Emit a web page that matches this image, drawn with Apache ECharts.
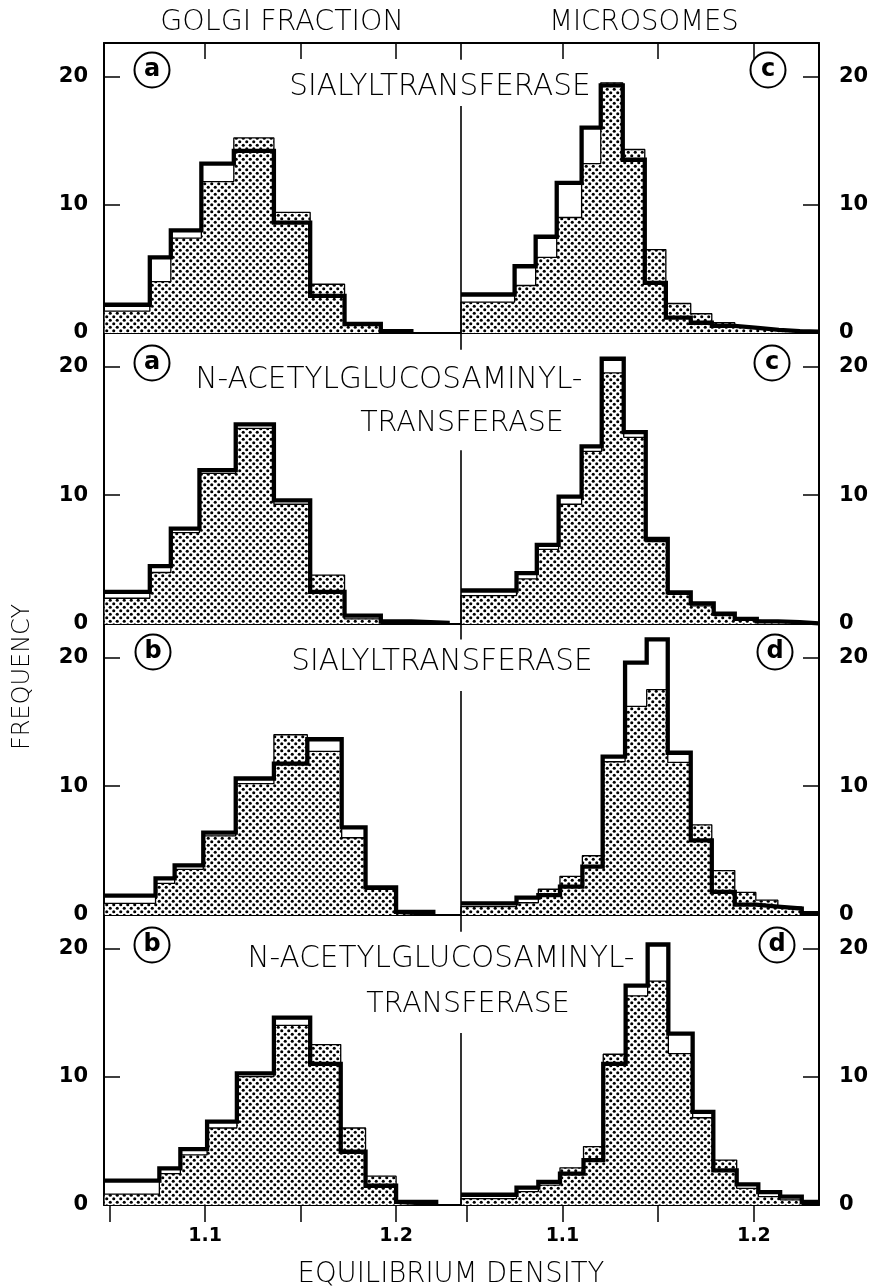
<!DOCTYPE html>
<html><head><meta charset="utf-8">
<script src="https://cdn.jsdelivr.net/npm/echarts@6/dist/echarts.min.js"></script>
<style>html,body{margin:0;padding:0;background:#fff}#c{width:875px;height:1286px}</style>
</head><body><div id="c"></div><script>
// ---------------- DATA (equilibrium density bin edges, frequencies) ----------------
const xTickValues = [1.05, 1.10, 1.15, 1.20];
const xLabelValues = [1.1, 1.2];
const yTickValues = [0, 10, 20];

// (a) Golgi, sialyltransferase
const aSiaEdges   = [1.047, 1.071, 1.082, 1.098, 1.115, 1.136, 1.155, 1.173, 1.192, 1.208];
const aSiaDotted  = [1.7, 4.0, 7.4, 11.8, 15.2, 9.4, 3.8, 0.6, 0.05];
const aSiaOutline = [2.2, 5.9, 8.0, 13.2, 14.2, 8.6, 2.9, 0.7, 0.15];
// (c) Microsomes, sialyltransferase
const cSiaEdges   = [1.047, 1.075, 1.086, 1.097, 1.110, 1.120, 1.1315, 1.143, 1.154, 1.167, 1.178, 1.190, 1.202, 1.213, 1.224, 1.234];
const cSiaDotted  = [2.4, 3.7, 5.9, 9.0, 13.2, 19.5, 14.3, 6.5, 2.3, 1.5, 0.8, 0.5, 0.3, 0.2, 0.1];
const cSiaOutline = [3.0, 5.2, 7.5, 11.7, 16.0, 19.3, 13.5, 3.9, 1.2, 0.8, 0.55, 0.4, 0.25, 0.15, 0.1];
// (a) Golgi, N-acetylglucosaminyltransferase
const aGntEdges   = [1.047, 1.071, 1.082, 1.097, 1.116, 1.136, 1.155, 1.173, 1.192, 1.208, 1.227];
const aGntDotted  = [2.0, 4.0, 7.1, 11.7, 15.2, 9.3, 3.8, 0.4, 0.05, 0];
const aGntOutline = [2.5, 4.5, 7.4, 11.95, 15.5, 9.6, 2.5, 0.65, 0.2, 0.1];
// (c) Microsomes, N-acetylglucosaminyltransferase
const cGntEdges   = [1.047, 1.076, 1.0866, 1.098, 1.110, 1.1205, 1.132, 1.1435, 1.155, 1.167, 1.179, 1.190, 1.2015, 1.2126, 1.224, 1.234];
const cGntDotted  = [2.2, 3.5, 5.8, 9.3, 13.4, 19.5, 14.5, 6.4, 2.3, 1.4, 0.65, 0.3, 0.15, 0.1, 0];
const cGntOutline = [2.6, 3.95, 6.15, 9.9, 13.8, 20.6, 14.9, 6.6, 2.45, 1.6, 0.8, 0.4, 0.2, 0.15, 0.05];
// (b) Golgi, sialyltransferase
const bSiaEdges   = [1.047, 1.074, 1.084, 1.099, 1.116, 1.136, 1.1535, 1.1715, 1.184, 1.200, 1.2195];
const bSiaDotted  = [0.9, 2.45, 3.55, 6.15, 10.2, 14.0, 12.7, 6.0, 2.0, 0.15];
const bSiaOutline = [1.5, 2.85, 3.85, 6.4, 10.6, 11.75, 13.65, 6.8, 2.15, 0.25];
// (d) Microsomes, sialyltransferase
const dSiaEdges   = [1.047, 1.076, 1.0874, 1.0987, 1.1104, 1.121, 1.1327, 1.144, 1.155, 1.167, 1.178, 1.190, 1.201, 1.2125, 1.225, 1.234];
const dSiaDotted  = [0.65, 0.95, 2.0, 3.0, 4.6, 11.9, 16.2, 17.5, 11.85, 7.0, 3.45, 1.75, 1.15, 0.6, 0.1];
const dSiaOutline = [0.9, 1.35, 1.55, 2.2, 3.75, 12.3, 19.6, 21.4, 12.6, 5.8, 1.8, 0.8, 0.65, 0.5, 0.15];
// (b) Golgi, N-acetylglucosaminyltransferase
const bGntEdges   = [1.047, 1.076, 1.087, 1.101, 1.1166, 1.136, 1.155, 1.171, 1.184, 1.200, 1.221];
const bGntDotted  = [0.85, 2.45, 3.9, 6.0, 10.0, 14.0, 12.5, 6.0, 2.25, 0.15];
const bGntOutline = [1.9, 2.85, 4.35, 6.5, 10.25, 14.6, 11.0, 4.15, 1.5, 0.25];
// (d) Microsomes, N-acetylglucosaminyltransferase
const dGntEdges   = [1.047, 1.076, 1.0874, 1.0987, 1.111, 1.1213, 1.133, 1.1445, 1.1553, 1.168, 1.1788, 1.191, 1.2023, 1.2137, 1.225, 1.234];
const dGntDotted  = [0.5, 1.05, 1.55, 2.9, 4.55, 11.75, 16.3, 17.45, 11.8, 6.8, 3.5, 1.3, 0.65, 0.4, 0.05];
const dGntOutline = [0.8, 1.35, 1.8, 2.45, 3.5, 11.0, 17.1, 20.3, 13.35, 7.25, 2.7, 1.6, 1.0, 0.65, 0.25];

// ---------------- LAYOUT ----------------
const X_MIN = 1.047, X_MAX = 1.234, Y_MAX = 22.6;
const rowTop = [43, 333, 624, 915], rowH = [290, 291, 291, 290];
const colLeft = [104, 461], colW = [357, 358];
const dividerLow = [17.7, 13.5, 17.4, 13.4];
const dividerTop = [21.3, 21.3, 21.4, 21.3];
const FONT = '"DejaVu Sans", sans-serif';

const panels = [
  {e: aSiaEdges, d: aSiaDotted, o: aSiaOutline, row: 0, col: 0},
  {e: cSiaEdges, d: cSiaDotted, o: cSiaOutline, row: 0, col: 1},
  {e: aGntEdges, d: aGntDotted, o: aGntOutline, row: 1, col: 0},
  {e: cGntEdges, d: cGntDotted, o: cGntOutline, row: 1, col: 1},
  {e: bSiaEdges, d: bSiaDotted, o: bSiaOutline, row: 2, col: 0},
  {e: dSiaEdges, d: dSiaDotted, o: dSiaOutline, row: 2, col: 1},
  {e: bGntEdges, d: bGntDotted, o: bGntOutline, row: 3, col: 0},
  {e: dGntEdges, d: dGntDotted, o: dGntOutline, row: 3, col: 1}
];

// dot screen pattern
const T = 7;
const pc = document.createElement('canvas');
pc.width = T; pc.height = T;
const pctx = pc.getContext('2d');
pctx.fillStyle = '#fff'; pctx.fillRect(0, 0, T, T);
pctx.fillStyle = '#000';
[[T / 4, T / 4], [3 * T / 4, 3 * T / 4]].forEach(([cx, cy]) => { pctx.beginPath(); pctx.arc(cx, cy, 1.55, 0, Math.PI * 2); pctx.fill(); });
const dotPattern = {image: pc, repeat: 'repeat'};

function steps(edges, h, closeStart, closeEnd) {
  const pts = [];
  if (closeStart) pts.push([edges[0], 0]);
  for (let i = 0; i < h.length; i++) pts.push([edges[i], h[i]]);
  pts.push([edges[h.length], h[h.length - 1]]);
  if (closeEnd) pts.push([edges[h.length], 0]);
  return pts;
}

const black = '#000';
const grids = [], xAxes = [], yAxes = [], series = [];
panels.forEach((p, k) => {
  grids.push({left: colLeft[p.col], top: rowTop[p.row], width: colW[p.col], height: rowH[p.row],
              containLabel: false, outerBoundsMode: 'none'});
  const bottomRow = p.row === 3;
  xAxes.push({type: 'value', gridIndex: k, min: X_MIN, max: X_MAX, position: 'bottom',
    axisLine: {show: true, onZero: false, lineStyle: {color: black, width: 2}},
    axisTick: {show: bottomRow, inside: false, length: 17, customValues: xTickValues, lineStyle: {color: black, width: 1.5}},
    axisLabel: {show: bottomRow, customValues: xLabelValues, margin: 22, fontSize: 19, fontWeight: 'bold',
                fontFamily: FONT, color: black, formatter: v => v.toFixed(1)},
    splitLine: {show: false}});
  yAxes.push({type: 'value', gridIndex: k, min: 0, max: Y_MAX, position: p.col ? 'right' : 'left',
    axisLine: {show: true, lineStyle: {color: black, width: 2}},
    axisTick: {show: true, inside: true, length: 16, customValues: [10, 20], lineStyle: {color: black, width: 1.5}},
    axisLabel: {customValues: yTickValues, margin: p.col ? 20 : 16, fontSize: 21, fontWeight: 'bold',
                fontFamily: FONT, color: black},
    splitLine: {show: false}});
  const n = p.o.length;
  series.push({type: 'line', xAxisIndex: k, yAxisIndex: k, step: 'end', data: steps(p.e, p.d, true, true),
    symbol: 'none', showSymbol: false, silent: true, animation: false, z: 2,
    lineStyle: {color: black, width: 1.3}, areaStyle: {color: dotPattern, opacity: 1}});
  const s = {type: 'line', xAxisIndex: k, yAxisIndex: k, step: 'end',
    data: steps(p.e, p.o, p.e[0] > X_MIN + 1e-6, p.e[n] < X_MAX - 1e-6),
    symbol: 'none', showSymbol: false, silent: true, animation: false, z: 3,
    lineStyle: {color: black, width: 4.3, join: 'miter'}};
  if (p.col === 1) {
    s.clip = false;
    s.markLine = {silent: true, symbol: ['none', 'none'], label: {show: false}, animation: false,
      lineStyle: {color: black, width: 1.6, type: 'solid'},
      emphasis: {disabled: true},
      data: [[{coord: [X_MIN, 0]}, {coord: [X_MIN, dividerLow[p.row]]}],
             [{coord: [X_MIN, dividerTop[p.row]]}, {coord: [X_MIN, Y_MAX]}]]};
  }
  series.push(s);
});
// top frame of first row, with inward ticks
[0, 1].forEach(k => {
  xAxes.push({type: 'value', gridIndex: k, min: X_MIN, max: X_MAX, position: 'top',
    axisLine: {show: true, onZero: false, lineStyle: {color: black, width: 2}},
    axisTick: {show: true, inside: true, length: 16, customValues: [1.1, 1.15, 1.2], lineStyle: {color: black, width: 1.5}},
    axisLabel: {show: false}, splitLine: {show: false}});
});

function txt(text, x, y, size, weight, extra) {
  return Object.assign({type: 'text', x: x, y: y, z: 10, silent: true,
    style: {text: text, fill: black, fontSize: size, fontWeight: weight || 'normal', fontFamily: FONT,
            align: 'center', verticalAlign: 'middle', textAlign: 'center', textVerticalAlign: 'middle'}}, extra || {});
}
function circ(letter, cx, cy) {
  return [{type: 'circle', z: 10, silent: true, shape: {cx: cx, cy: cy, r: 17.5}, style: {fill: '#fff', stroke: black, lineWidth: 2}},
          txt(letter, cx, cy, 24, 'bold', {z: 11})];
}
const graphics = [
  txt('GOLGI FRACTION', 282, 23, 28.5, 200),
  txt('MICROSOMES', 644, 23, 27.5, 200),
  txt('SIALYLTRANSFERASE', 440, 87, 29.5, 200),
  txt('N-ACETYLGLUCOSAMINYL-', 389, 380, 29.5, 200),
  txt('TRANSFERASE', 462, 424, 28.5, 200),
  txt('SIALYLTRANSFERASE', 442, 662, 29.5, 200),
  txt('N-ACETYLGLUCOSAMINYL-', 441, 959, 29.5, 200),
  txt('TRANSFERASE', 468, 1005, 28.5, 200),
  txt('FREQUENCY', 23, 677, 24, 200, {rotation: Math.PI / 2}),
  txt('EQUILIBRIUM DENSITY', 451, 1275, 27.5, 200)
].concat(circ('a', 152, 70), circ('c', 768, 70), circ('a', 152, 363), circ('c', 772, 363),
         circ('b', 153, 652), circ('d', 775, 652), circ('b', 152, 945), circ('d', 777, 945));

const chart = echarts.init(document.getElementById('c'), null, {renderer: 'canvas'});
chart.setOption({
  animation: false,
  backgroundColor: '#fff',
  grid: grids, xAxis: xAxes, yAxis: yAxes, series: series,
  graphic: {elements: graphics}
});
</script></body></html>
